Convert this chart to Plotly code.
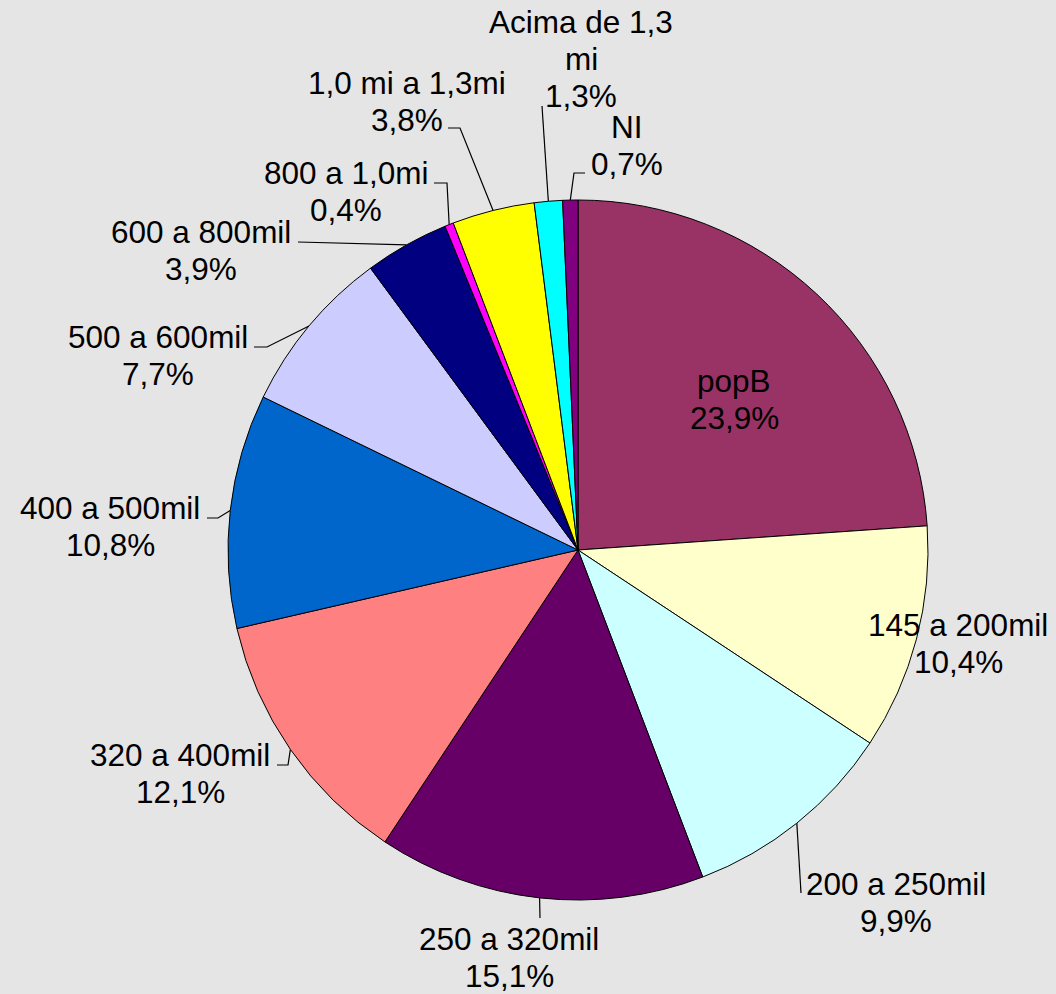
"""Pie chart of population bands with leader-line labels"""

import numpy as np
import plotly.graph_objects as go

W, H = 1056, 994

labels = [
    "popB",
    "145 a 200mil",
    "200 a 250mil",
    "250 a 320mil",
    "320 a 400mil",
    "400 a 500mil",
    "500 a 600mil",
    "600 a 800mil",
    "800 a 1,0mi",
    "1,0 mi a 1,3mi",
    "Acima de 1,3\nmi",
    "NI",
]
values = [23.9, 10.4, 9.9, 15.1, 12.1, 10.8, 7.7, 3.9, 0.4, 3.8, 1.3, 0.7]
colors = [
    "#993366", "#FFFFCC", "#CCFFFF", "#660066", "#FF8080", "#0066CC",
    "#CCCCFF", "#000080", "#FF00FF", "#FFFF00", "#00FFFF", "#800080",
]

# layout: pie centre / radius and label placement, in page pixels
CX, CY, R = 578, 550, 350
LINE_H = 37
# (x centre, middle of first text line)
label_pos = [
    (734, 381), (958, 625), (896, 884), (509, 939), (180, 755), (110, 508),
    (158, 337), (201, 232), (346, 173), (407, 83), (581, 22), (627, 127),
]
leader_bends = [
    None,
    None,
    [(801, 893)],
    [(540, 918)],
    [(288, 765), (277, 765)],
    [(218, 518), (207, 518)],
    [(267, 347), (254, 347)],
    [(298, 242)],
    [(447, 183), (434, 183)],
    [(460, 128), (448, 128)],
    [(542, 106)],
    [(574, 173), (585, 173)],
]

FONT = "Liberation Sans, Arial, sans-serif"

fig = go.Figure()
fig.add_trace(
    go.Pie(
        labels=labels,
        values=values,
        sort=False,
        direction="clockwise",
        rotation=0,
        marker=dict(colors=colors, line=dict(color="black", width=1)),
        textinfo="none",
        hoverinfo="skip",
        showlegend=False,
        domain=dict(
            x=[(CX - R) / W, (CX + R) / W],
            y=[(H - CY - R) / H, (H - CY + R) / H],
        ),
    )
)

total = sum(values)
cum = np.cumsum([0] + values[:-1])
for i, (lab, val) in enumerate(zip(labels, values)):
    theta = 2 * np.pi * (cum[i] + val / 2) / total
    if leader_bends[i]:
        ex, ey = CX + R * np.sin(theta), CY - R * np.cos(theta)
        pts = [(ex, ey)] + leader_bends[i]
        fig.add_trace(
            go.Scatter(
                x=[p[0] for p in pts],
                y=[p[1] for p in pts],
                mode="lines",
                line=dict(color="black", width=1.2),
                hoverinfo="skip",
                showlegend=False,
            )
        )
    pct = f"{val:.1f}%".replace(".", ",")
    lines = lab.split("\n") + [pct]
    for k, txt in enumerate(lines):
        fig.add_annotation(
            x=label_pos[i][0],
            y=label_pos[i][1] + k * LINE_H,
            xref="x",
            yref="y",
            text=txt,
            showarrow=False,
            xanchor="center",
            yanchor="middle",
            font=dict(family=FONT, size=31.5, color="black"),
        )

fig.update_layout(
    width=W,
    height=H,
    margin=dict(l=0, r=0, t=0, b=0),
    paper_bgcolor="#E5E5E5",
    plot_bgcolor="rgba(0,0,0,0)",
    xaxis=dict(range=[0, W], visible=False, fixedrange=True),
    yaxis=dict(range=[H, 0], visible=False, fixedrange=True),
    showlegend=False,
)

fig.write_html(
    "out.html",
    config={"displayModeBar": False},
    post_script="document.body.style.margin='0';document.body.style.overflow='hidden';",
)
